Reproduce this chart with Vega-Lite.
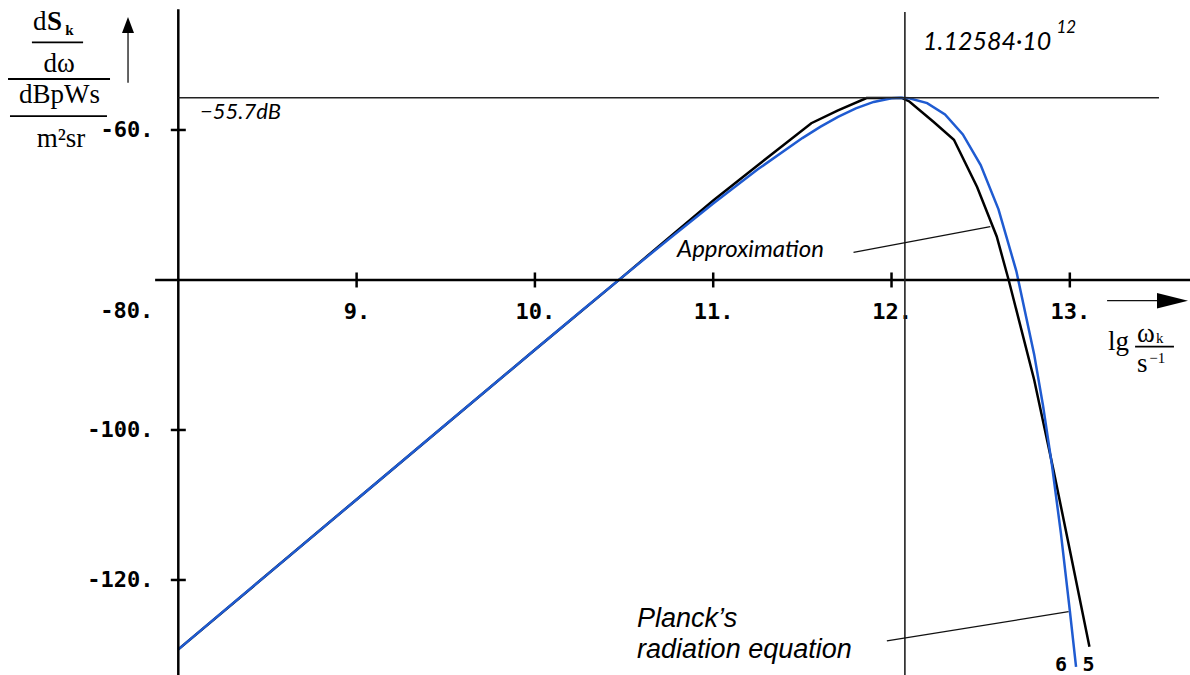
{
  "$schema": "https://vega.github.io/schema/vega-lite/v6.json",
  "width": 1190,
  "height": 675,
  "padding": 0,
  "autosize": {"type": "none"},
  "background": "white",
  "config": {"view": {"stroke": null}},
  "layer": [
    {
      "data": {"values": [
        {"x": 8.0, "y": -129.25}, {"x": 9.0, "y": -109.26}, {"x": 10.0, "y": -89.3}, {"x": 10.5, "y": -79.42},
        {"x": 10.75, "y": -74.4}, {"x": 11.0, "y": -69.4}, {"x": 11.25, "y": -64.7}, {"x": 11.55, "y": -59.1},
        {"x": 11.7, "y": -57.4}, {"x": 11.86, "y": -55.75}, {"x": 12.06, "y": -55.75}, {"x": 12.1, "y": -56.2},
        {"x": 12.235, "y": -58.9}, {"x": 12.35, "y": -61.3}, {"x": 12.48, "y": -67.6}, {"x": 12.59, "y": -74.2},
        {"x": 12.657, "y": -80.0}, {"x": 12.8, "y": -93.3}, {"x": 12.908, "y": -105.3}, {"x": 13.0, "y": -116.0},
        {"x": 13.11, "y": -128.9}
      ]},
      "mark": {"type": "line", "color": "black", "strokeWidth": 2.5},
      "encoding": {
        "x": {"field": "x", "type": "quantitative",
              "scale": {"domain": [7.0, 13.674], "nice": false, "zero": false},
              "axis": {"values": [9, 10, 11, 12, 13], "labelExpr": "datum.value + '.'", "orient": "bottom", "offset": -395,
                       "domain": false, "ticks": false, "tickSize": 0, "grid": false, "labelPadding": 21,
                       "labelFont": "DejaVu Sans Mono", "labelFontWeight": "bold", "labelFontSize": 22, "labelColor": "black",
                       "title": null, "labelFlush": false, "labelOverlap": false}},
        "y": {"field": "y", "type": "quantitative",
              "scale": {"domain": [-132.67, -42.67], "nice": false, "zero": false},
              "axis": {"values": [-60, -100, -120], "labelExpr": "datum.value + '.'", "orient": "left", "offset": -178,
                       "domain": false, "ticks": false, "tickSize": 0, "grid": false, "labelPadding": 25,
                       "labelFont": "DejaVu Sans Mono", "labelFontWeight": "bold", "labelFontSize": 22, "labelColor": "black",
                       "title": null, "labelFlush": false, "labelOverlap": false}}
      }
    },
    {
      "data": {"values": [
        {"x": 8.0, "y": -129.25}, {"x": 8.5, "y": -119.25}, {"x": 9.0, "y": -109.26}, {"x": 9.5, "y": -99.27},
        {"x": 10.0, "y": -89.3}, {"x": 10.25, "y": -84.34}, {"x": 10.5, "y": -79.42}, {"x": 10.75, "y": -74.56},
        {"x": 11.0, "y": -69.8}, {"x": 11.25, "y": -65.25}, {"x": 11.5, "y": -61.08}, {"x": 11.6, "y": -59.59},
        {"x": 11.7, "y": -58.26}, {"x": 11.8, "y": -57.13}, {"x": 11.9, "y": -56.26}, {"x": 12.0, "y": -55.77},
        {"x": 12.05, "y": -55.7}, {"x": 12.1, "y": -55.77}, {"x": 12.2, "y": -56.42}, {"x": 12.3, "y": -57.94},
        {"x": 12.4, "y": -60.59}, {"x": 12.5, "y": -64.68}, {"x": 12.6, "y": -70.59}, {"x": 12.7, "y": -78.81},
        {"x": 12.8, "y": -89.92}, {"x": 12.85, "y": -96.8}, {"x": 12.9, "y": -104.72}, {"x": 12.95, "y": -113.78},
        {"x": 13.0, "y": -124.09}, {"x": 13.035, "y": -131.6}
      ]},
      "mark": {"type": "line", "color": "#1f5bd1", "strokeWidth": 2.5},
      "encoding": {
        "x": {"field": "x", "type": "quantitative"},
        "y": {"field": "y", "type": "quantitative"}
      }
    },
    {
      "data": {"values": [
        {"x": 7.87, "x2": 13.68, "y": -80, "y2": -80},
        {"x": 8.0, "x2": 8.0, "y": -43.9, "y2": -132.67}
      ]},
      "mark": {"type": "rule", "color": "black", "strokeWidth": 2.5},
      "encoding": {
        "x": {"field": "x", "type": "quantitative"}, "x2": {"field": "x2"},
        "y": {"field": "y", "type": "quantitative"}, "y2": {"field": "y2"}
      }
    },
    {
      "data": {"values": [
        {"x": 8.0, "x2": 13.5, "y": -55.7, "y2": -55.7},
        {"x": 12.075, "x2": 12.075, "y": -44.27, "y2": -132.67}
      ]},
      "mark": {"type": "rule", "color": "#222222", "strokeWidth": 1.6},
      "encoding": {
        "x": {"field": "x", "type": "quantitative"}, "x2": {"field": "x2"},
        "y": {"field": "y", "type": "quantitative"}, "y2": {"field": "y2"}
      }
    },
    {
      "data": {"values": [
        {"x": 11.787, "x2": 12.554, "y": -76.31, "y2": -72.89},
        {"x": 11.974, "x2": 12.993, "y": -128.13, "y2": -124.23},
        {"x": 7.718, "x2": 7.718, "y": -53.7, "y2": -47.0},
        {"x": 13.209, "x2": 13.5, "y": -82.76, "y2": -82.76}
      ]},
      "mark": {"type": "rule", "color": "#111111", "strokeWidth": 1.3},
      "encoding": {
        "x": {"field": "x", "type": "quantitative"}, "x2": {"field": "x2"},
        "y": {"field": "y", "type": "quantitative"}, "y2": {"field": "y2"}
      }
    },
    {
      "data": {"values": [
        {"x": 7.045, "x2": 7.617, "y": -53.2, "y2": -53.2},
        {"x": 7.179, "x2": 7.466, "y": -48.31, "y2": -48.31},
        {"x": 7.056, "x2": 7.6, "y": -58.14, "y2": -58.14},
        {"x": 13.366, "x2": 13.584, "y": -88.89, "y2": -88.89}
      ]},
      "mark": {"type": "rule", "color": "black", "strokeWidth": 1.8},
      "encoding": {
        "x": {"field": "x", "type": "quantitative"}, "x2": {"field": "x2"},
        "y": {"field": "y", "type": "quantitative"}, "y2": {"field": "y2"}
      }
    },
    {
      "data": {"values": [{"x": 13.576, "y": -82.76}]},
      "mark": {"type": "point", "shape": "M-1,-0.5L1,0L-1,0.5Z", "size": 961, "filled": true, "color": "black", "opacity": 1, "strokeWidth": 0},
      "encoding": {"x": {"field": "x", "type": "quantitative"}, "y": {"field": "y", "type": "quantitative"}}
    },
    {
      "data": {"values": [{"x": 7.718, "y": -46.0}]},
      "mark": {"type": "point", "shape": "M-0.75,1L0,-1L0.75,1Z", "size": 256, "filled": true, "color": "black", "opacity": 1, "strokeWidth": 0},
      "encoding": {"x": {"field": "x", "type": "quantitative"}, "y": {"field": "y", "type": "quantitative"}}
    },
    {
      "data": {"values": [{"x": 9, "y": -80}, {"x": 10, "y": -80}, {"x": 11, "y": -80}, {"x": 12, "y": -80}, {"x": 13, "y": -80}]},
      "mark": {"type": "tick", "orient": "vertical", "size": 15, "thickness": 2.5, "color": "black", "opacity": 1},
      "encoding": {"x": {"field": "x", "type": "quantitative"}, "y": {"field": "y", "type": "quantitative"}}
    },
    {
      "data": {"values": [{"x": 8, "y": -60}, {"x": 8, "y": -100}, {"x": 8, "y": -120}]},
      "mark": {"type": "tick", "orient": "horizontal", "size": 15, "thickness": 2.5, "color": "black", "opacity": 1},
      "encoding": {"x": {"field": "x", "type": "quantitative"}, "y": {"field": "y", "type": "quantitative"}}
    },
    {
      "data": {"values": [{"x": 8, "y": -80, "label": "-80."}]},
      "mark": {"type": "text", "align": "right", "baseline": "middle", "dx": -25, "dy": 31, "font": "DejaVu Sans Mono", "fontWeight": "bold", "fontSize": 22, "color": "black"},
      "encoding": {"x": {"field": "x", "type": "quantitative"}, "y": {"field": "y", "type": "quantitative"}, "text": {"field": "label"}}
    },
    {
      "data": {"values": [{"x": 12.95, "y": -132.2, "label": "6"}, {"x": 13.105, "y": -132.2, "label": "5"}]},
      "mark": {"type": "text", "align": "center", "baseline": "alphabetic", "font": "DejaVu Sans Mono", "fontWeight": "bold", "fontSize": 20, "color": "black"},
      "encoding": {"x": {"field": "x", "type": "quantitative"}, "y": {"field": "y", "type": "quantitative"}, "text": {"field": "label"}}
    },
    {
      "data": {"values": [{"x": 12.177, "y": -49.34, "label": "1.12584·10"}]},
      "mark": {"type": "text", "align": "left", "baseline": "alphabetic", "font": "Lato", "fontStyle": "italic", "fontSize": 25, "color": "black"},
      "encoding": {"x": {"field": "x", "type": "quantitative"}, "y": {"field": "y", "type": "quantitative"}, "text": {"field": "label"}}
    },
    {
      "data": {"values": [{"x": 12.925, "y": -47.07, "label": "12"}]},
      "mark": {"type": "text", "align": "left", "baseline": "alphabetic", "font": "Lato", "fontStyle": "italic", "fontSize": 17, "color": "black"},
      "encoding": {"x": {"field": "x", "type": "quantitative"}, "y": {"field": "y", "type": "quantitative"}, "text": {"field": "label"}}
    },
    {
      "data": {"values": [{"x": 10.797, "y": -76.0, "label": "Approximation"}]},
      "mark": {"type": "text", "align": "left", "baseline": "middle", "font": "Lato", "fontStyle": "italic", "fontSize": 24, "color": "black"},
      "encoding": {"x": {"field": "x", "type": "quantitative"}, "y": {"field": "y", "type": "quantitative"}, "text": {"field": "label"}}
    },
    {
      "data": {"values": [{"x": 8.122, "y": -57.6, "label": "−55.7dB"}]},
      "mark": {"type": "text", "align": "left", "baseline": "middle", "font": "Lato", "fontStyle": "italic", "fontSize": 22, "color": "black"},
      "encoding": {"x": {"field": "x", "type": "quantitative"}, "y": {"field": "y", "type": "quantitative"}, "text": {"field": "label"}}
    },
    {
      "data": {"values": [{"x": 10.573, "y": -126.27, "label": "Planck’s\nradiation equation"}]},
      "mark": {"type": "text", "align": "left", "baseline": "alphabetic", "lineBreak": "\n", "lineHeight": 31, "font": "Liberation Sans", "fontStyle": "italic", "fontSize": 27, "color": "black"},
      "encoding": {"x": {"field": "x", "type": "quantitative"}, "y": {"field": "y", "type": "quantitative"}, "text": {"field": "label"}}
    },
    {
      "data": {"values": [
        {"x": 7.185, "y": -46.67, "label": "d"},
        {"x": 13.377, "y": -88.27, "label": "ω"},
        {"x": 13.377, "y": -92.27, "label": "s"},
        {"x": 13.214, "y": -89.34, "label": "lg"}
      ]},
      "mark": {"type": "text", "align": "left", "baseline": "alphabetic", "font": "Liberation Serif", "fontSize": 27, "color": "black"},
      "encoding": {"x": {"field": "x", "type": "quantitative"}, "y": {"field": "y", "type": "quantitative"}, "text": {"field": "label"}}
    },
    {
      "data": {"values": [
        {"x": 7.331, "y": -52.27, "label": "dω"},
        {"x": 7.334, "y": -56.4, "label": "dBpWs"},
        {"x": 7.342, "y": -62.27, "label": "m²sr"}
      ]},
      "mark": {"type": "text", "align": "center", "baseline": "alphabetic", "font": "Liberation Serif", "fontSize": 27, "color": "black"},
      "encoding": {"x": {"field": "x", "type": "quantitative"}, "y": {"field": "y", "type": "quantitative"}, "text": {"field": "label"}}
    },
    {
      "data": {"values": [{"x": 7.264, "y": -46.67, "label": "S"}]},
      "mark": {"type": "text", "align": "left", "baseline": "alphabetic", "font": "Liberation Serif", "fontWeight": "bold", "fontSize": 27, "color": "black"},
      "encoding": {"x": {"field": "x", "type": "quantitative"}, "y": {"field": "y", "type": "quantitative"}, "text": {"field": "label"}}
    },
    {
      "data": {"values": [{"x": 7.366, "y": -47.34, "label": "k"}]},
      "mark": {"type": "text", "align": "left", "baseline": "alphabetic", "font": "Liberation Serif", "fontWeight": "bold", "fontSize": 15, "color": "black"},
      "encoding": {"x": {"field": "x", "type": "quantitative"}, "y": {"field": "y", "type": "quantitative"}, "text": {"field": "label"}}
    },
    {
      "data": {"values": [
        {"x": 13.484, "y": -88.4, "label": "k"},
        {"x": 13.445, "y": -91.07, "label": "−1"}
      ]},
      "mark": {"type": "text", "align": "left", "baseline": "alphabetic", "font": "Liberation Serif", "fontSize": 15, "color": "black"},
      "encoding": {"x": {"field": "x", "type": "quantitative"}, "y": {"field": "y", "type": "quantitative"}, "text": {"field": "label"}}
    }
  ]
}
